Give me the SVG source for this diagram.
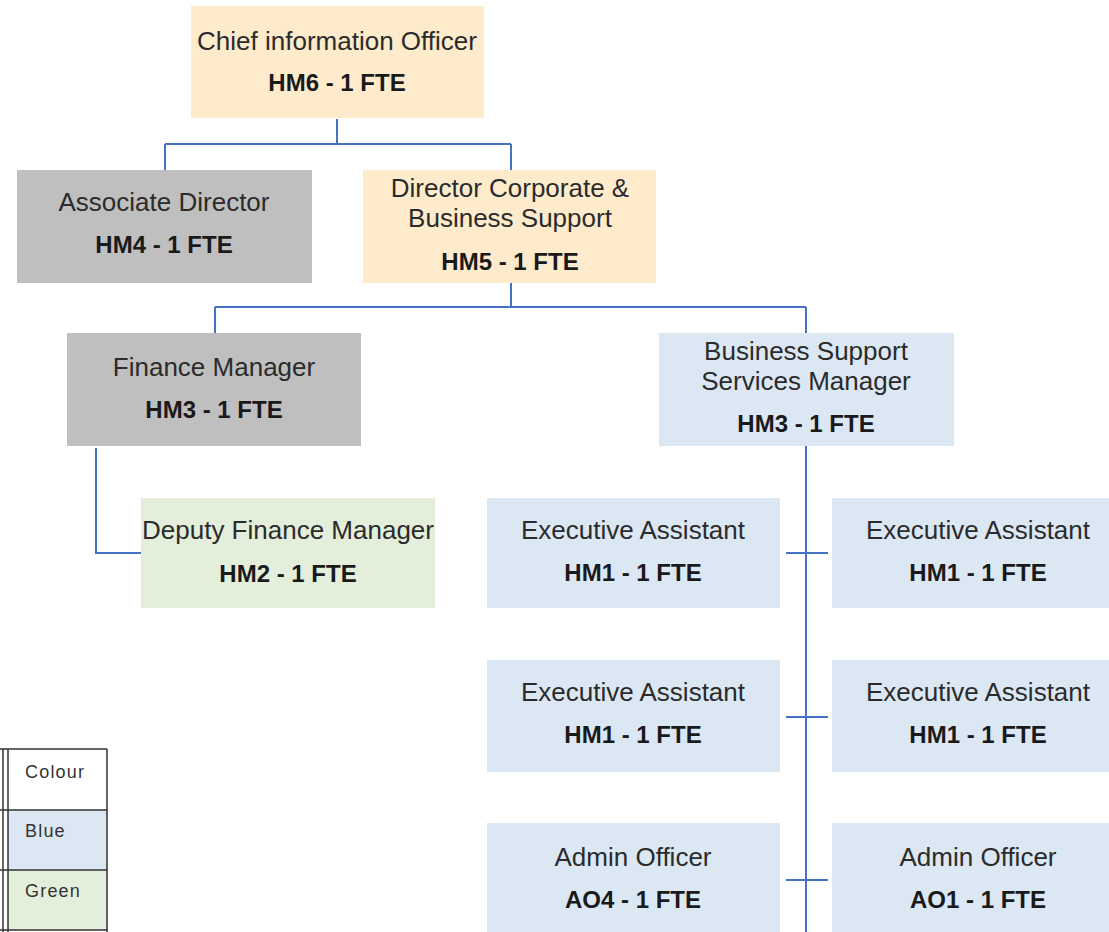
<svg xmlns="http://www.w3.org/2000/svg" width="1109" height="932" viewBox="0 0 1109 932">
<style>
.box{stroke:none}
.peach{fill:#FDEBCC}
.gray{fill:#BFBFBF}
.blue{fill:#DCE7F4}
.green{fill:#E3EFDA}
.t{font-family:"Liberation Sans",Arial,sans-serif;font-size:26px;fill:#2b2b2b;text-anchor:middle}
.b{font-family:"Liberation Sans",Arial,sans-serif;font-size:24px;font-weight:bold;fill:#1a1a1a;text-anchor:middle}
.conn{stroke:#4472C4;stroke-width:2;fill:none}
.lg{font-family:"Liberation Sans",Arial,sans-serif;font-size:18px;letter-spacing:1.2px;fill:#333}
.grid{stroke:#333;stroke-width:1.5;fill:none}
</style>
<rect width="1109" height="932" fill="#ffffff"/>
<g id="connectors">
<path class="conn" d="M337 119 V144 M165 144 H511 M165 144 V170 M511 144 V170"/>
<path class="conn" d="M511 283 V307 M215 307 H806 M215 307 V333 M806 307 V333"/>
<path class="conn" d="M96 448 V553 H141"/>
<path class="conn" d="M806 446 V932"/>
<path class="conn" d="M786 553 H828 M786 717 H828 M786 880 H828"/>
</g>
<g id="cio"><rect class="box peach" x="191" y="6" width="293" height="112"/><text class="t" x="337" y="50">Chief information Officer</text><text class="b" x="337" y="91">HM6 - 1 FTE</text></g>
<g id="assoc-director"><rect class="box gray" x="17" y="170" width="295" height="113"/><text class="t" x="164" y="211">Associate Director</text><text class="b" x="164" y="253">HM4 - 1 FTE</text></g>
<g id="director-corp"><rect class="box peach" x="363" y="170" width="293" height="113"/><text class="t" x="510" y="197">Director Corporate &amp;</text><text class="t" x="510" y="227">Business Support</text><text class="b" x="510" y="270">HM5 - 1 FTE</text></g>
<g id="finance-manager"><rect class="box gray" x="67" y="333" width="294" height="113"/><text class="t" x="214" y="376">Finance Manager</text><text class="b" x="214" y="418">HM3 - 1 FTE</text></g>
<g id="bssm"><rect class="box blue" x="659" y="333" width="295" height="113"/><text class="t" x="806" y="360">Business Support</text><text class="t" x="806" y="390">Services Manager</text><text class="b" x="806" y="432">HM3 - 1 FTE</text></g>
<g id="deputy-finance"><rect class="box green" x="141" y="498" width="294" height="110"/><text class="t" x="288" y="539">Deputy Finance Manager</text><text class="b" x="288" y="582">HM2 - 1 FTE</text></g>
<g id="ea1"><rect class="box blue" x="487" y="498" width="293" height="110"/><text class="t" x="633" y="539">Executive Assistant</text><text class="b" x="633" y="581">HM1 - 1 FTE</text></g>
<g id="ea2"><rect class="box blue" x="832" y="498" width="293" height="110"/><text class="t" x="978" y="539">Executive Assistant</text><text class="b" x="978" y="581">HM1 - 1 FTE</text></g>
<g id="ea3"><rect class="box blue" x="487" y="660" width="293" height="112"/><text class="t" x="633" y="701">Executive Assistant</text><text class="b" x="633" y="743">HM1 - 1 FTE</text></g>
<g id="ea4"><rect class="box blue" x="832" y="660" width="293" height="112"/><text class="t" x="978" y="701">Executive Assistant</text><text class="b" x="978" y="743">HM1 - 1 FTE</text></g>
<g id="ao4"><rect class="box blue" x="487" y="823" width="293" height="115"/><text class="t" x="633" y="866">Admin Officer</text><text class="b" x="633" y="908">AO4 - 1 FTE</text></g>
<g id="ao1"><rect class="box blue" x="832" y="823" width="293" height="115"/><text class="t" x="978" y="866">Admin Officer</text><text class="b" x="978" y="908">AO1 - 1 FTE</text></g>
<g id="legend">
<rect x="8" y="810" width="99" height="60" fill="#DCE7F4"/>
<rect x="8" y="870" width="99" height="60" fill="#E3EFDA"/>
<path class="grid" d="M-1 749 H107 M-1 810 H107 M-1 870 H107 M-1 930 H107 M3 749 V932 M8 749 V932 M107 749 V932"/>
<text class="lg" x="25" y="778">Colour</text>
<text class="lg" x="25" y="837" fill="#555">Blue</text>
<text class="lg" x="25" y="897" fill="#555">Green</text>
</g>
</svg>
